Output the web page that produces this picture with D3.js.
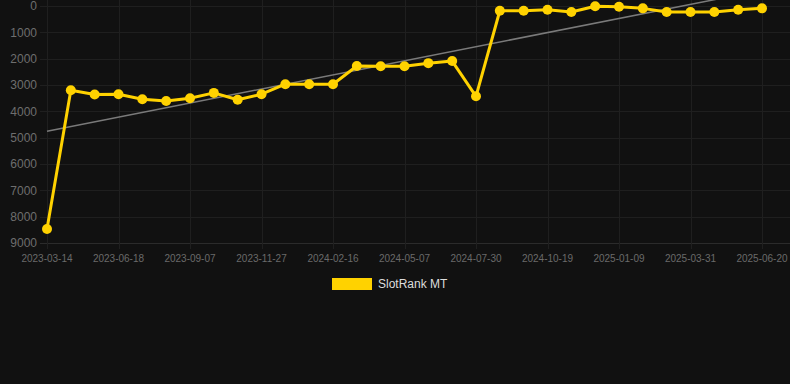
<!DOCTYPE html>
<html>
<head>
<meta charset="utf-8">
<script src="https://cdn.jsdelivr.net/npm/d3@7"></script>
<style>
  html, body { margin: 0; padding: 0; background: #111111; }
  svg { display: block; font-family: Arial, "Liberation Sans", sans-serif; }
</style>
</head>
<body>
<div id="chart"></div>
<script>
// categories (dates), every third one is labelled on the axis
const dates = [
  "2023-03-14", "2023-04-16", "2023-05-17", "2023-06-18", "2023-07-15", "2023-08-11",
  "2023-09-07", "2023-10-04", "2023-10-31", "2023-11-27", "2023-12-24", "2024-01-20",
  "2024-02-16", "2024-03-14", "2024-04-10", "2024-05-07", "2024-06-04", "2024-07-02",
  "2024-07-30", "2024-08-26", "2024-09-22", "2024-10-19", "2024-11-15", "2024-12-13",
  "2025-01-09", "2025-02-05", "2025-03-04", "2025-03-31", "2025-04-27", "2025-05-24",
  "2025-06-20"
];
// rank values (lower is better, axis reversed)
const rankMT = [
  8470, 3200, 3360, 3350, 3540, 3610, 3500, 3300, 3560, 3350,
  2970, 2970, 2970, 2280, 2290, 2290, 2170, 2090, 3430, 180,
  180, 140, 230, 10, 30, 90, 230, 230, 230, 140,
  90
];
const yTicks = [0, 1000, 2000, 3000, 4000, 5000, 6000, 7000, 8000, 9000];
const seriesName = "SlotRank MT";

const W = 790, H = 384;
const plotL = 40, plotR = 790, plotT = 6, plotB = 243;

const svg = d3.select("#chart").append("svg")
  .attr("width", W).attr("height", H);

const x = d3.scalePoint().domain(dates).range([47, 762]);
const y = d3.scaleLinear().domain([0, 9000]).range([plotT, plotB]);

// horizontal grid + y labels
svg.append("g").selectAll("line").data(yTicks).enter().append("line")
  .attr("x1", plotL).attr("x2", plotR)
  .attr("y1", d => Math.round(y(d)) + 0.5).attr("y2", d => Math.round(y(d)) + 0.5)
  .attr("stroke", d => d === 9000 ? "#2b2b2b" : "#1f1f1f").attr("stroke-width", 1);

svg.append("g").selectAll("text").data(yTicks).enter().append("text")
  .attr("x", 37).attr("y", d => y(d))
  .attr("dy", "0.35em").attr("text-anchor", "end")
  .attr("fill", "#6e6e6e").attr("font-size", 12)
  .text(d => d);

// vertical grid + x labels
const xTicks = dates.filter((d, i) => i % 3 === 0);
svg.append("g").selectAll("line").data(xTicks).enter().append("line")
  .attr("x1", d => Math.round(x(d)) + 0.5).attr("x2", d => Math.round(x(d)) + 0.5)
  .attr("y1", 0).attr("y2", plotB + 6)
  .attr("stroke", "#1f1f1f").attr("stroke-width", 1);

svg.append("g").selectAll("text").data(xTicks).enter().append("text")
  .attr("x", d => x(d)).attr("y", 262)
  .attr("text-anchor", "middle")
  .attr("fill", "#6a6a6a").attr("font-size", 10)
  .text(d => d);

// linear trend (least squares on index)
const n = rankMT.length;
const mx = d3.mean(rankMT, (d, i) => i);
const my = d3.mean(rankMT);
let sxy = 0, sxx = 0;
rankMT.forEach((v, i) => { sxy += (i - mx) * (v - my); sxx += (i - mx) * (i - mx); });
const slope = sxy / sxx;
const icpt = my - slope * mx;

svg.append("line")
  .attr("x1", x(dates[0])).attr("y1", y(icpt))
  .attr("x2", x(dates[n - 1])).attr("y2", y(icpt + slope * (n - 1)))
  .attr("stroke", "#7a7a7a").attr("stroke-width", 1.5);

// series line
const line = d3.line()
  .x((d, i) => x(dates[i]))
  .y(d => y(d));

svg.append("path")
  .datum(rankMT)
  .attr("d", line)
  .attr("fill", "none")
  .attr("stroke", "#ffd200")
  .attr("stroke-width", 3)
  .attr("stroke-linejoin", "round");

svg.append("g").selectAll("circle").data(rankMT).enter().append("circle")
  .attr("cx", (d, i) => x(dates[i]))
  .attr("cy", d => y(d))
  .attr("r", 5)
  .attr("fill", "#ffd200");

// legend
svg.append("rect")
  .attr("x", 332).attr("y", 278).attr("width", 40).attr("height", 12)
  .attr("fill", "#ffd200");
svg.append("text")
  .attr("x", 378).attr("y", 284).attr("dy", "0.35em")
  .attr("fill", "#dddddd").attr("font-size", 12)
  .text(seriesName);
</script>
</body>
</html>
